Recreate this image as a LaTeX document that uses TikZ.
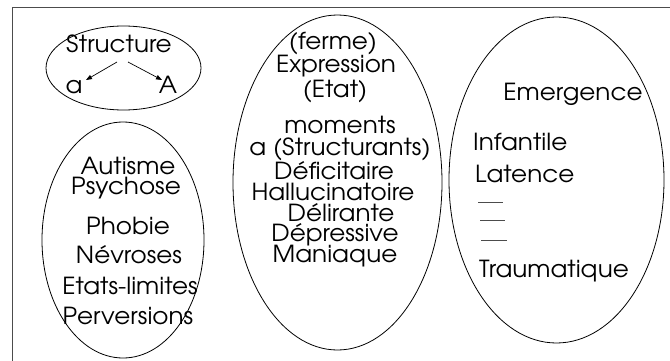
\documentclass[tikz,border=0pt]{standalone}
\usepackage{fontspec}
\setmainfont{texgyreadventor-regular.otf}
\usetikzlibrary{arrows.meta}
\begin{document}
\begin{tikzpicture}[x=1pt,y=-1pt,
  txt/.style={inner sep=0pt,anchor=base,xscale=1.05,font=\fontsize{23.5}{23.5}\selectfont},
  ltxt/.style={txt,anchor=base west},
  oval/.style={draw=black,line width=0.8pt},
  frame/.style={draw=black!70,line width=1pt},
  arr/.style={draw=black,line width=0.7pt,-{Triangle[length=6pt,width=4.5pt]}},
  dashline/.style={draw=black!70,line width=0.8pt}]
\useasboundingbox (0,0) rectangle (670,361);
% frame
\draw[frame] (670,8) -- (12,8) -- (12,361);
% ellipses
\draw[oval] (123.5,68) ellipse [x radius=77.5pt, y radius=42pt];
\draw[oval] (123,240) ellipse [x radius=81pt, y radius=118pt];
\draw[oval] (337.5,182.5) ellipse [x radius=104.5pt, y radius=167.5pt];
\draw[oval] (556.5,180) ellipse [x radius=107.5pt, y radius=163pt];
% ellipse 1
\node[txt] (structure) at (119,53) {Structure};
\node[txt] (a) at (74,93) {a};
\node[txt] (A) at (168,93) {A};
\coordinate (s1) at (117,62);
\coordinate (s2) at (128,62);
\coordinate (ta) at (86,80);
\coordinate (tA) at (162,80);
\draw[arr] (s1) -- (ta);
\draw[arr] (s2) -- (tA);
% ellipse 2
\node[txt] (autisme) at (128,175) {Autisme};
\node[txt] (psychose) at (126,194) {Psychose};
\node[txt] (phobie) at (128,234) {Phobie};
\node[txt] (nevroses) at (129,263) {Névroses};
\node[txt] (etats) at (130,294) {Etats-limites};
\node[txt] (perv) at (128,324) {Perversions};
% ellipse 3
\node[txt] (ferme) at (333,50) {(ferme)};
\node[txt] (expr) at (336,73) {Expression};
\node[txt] (etat) at (335,98) {(Etat)};
\node[txt] (moments) at (340,133) {moments};
\node[txt] (structurants) at (340,155) {a (Structurants)};
\node[txt] (defic) at (334,179) {Déficitaire};
\node[txt] (hallu) at (333,200) {Hallucinatoire};
\node[txt] (delir) at (341,221) {Délirante};
\node[txt] (depr) at (335,241) {Dépressive};
\node[txt] (mani) at (335,262) {Maniaque};
% ellipse 4
\node[txt] (emerg) at (573,100) {Emergence};
\node[ltxt] (infant) at (473,150) {Infantile};
\node[ltxt] (latence) at (475,182) {Latence};
\node[ltxt] (trauma) at (479,277) {Traumatique};
\draw[dashline] (478,202) -- (503,202);
\draw[dashline] (480,220) -- (505,220);
\draw[dashline] (481,240) -- (507,240);
\end{tikzpicture}
\end{document}
